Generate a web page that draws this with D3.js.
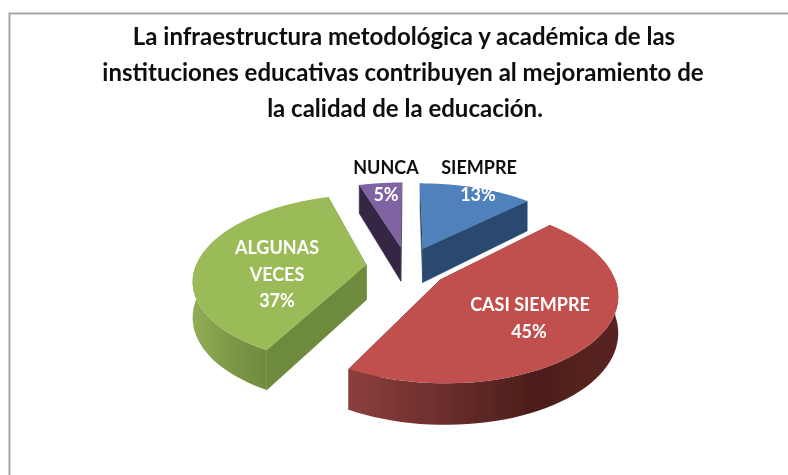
<!DOCTYPE html>
<html><head><meta charset="utf-8">
<script src="https://cdnjs.cloudflare.com/ajax/libs/d3/7.8.5/d3.min.js"></script>
<style>html,body{margin:0;padding:0;background:#fff}svg{display:block}</style></head>
<body><svg id="c" width="788" height="475"></svg>
<script>
const titleLines = ["La infraestructura metodológica y académica de las","instituciones educativas contribuyen al mejoramiento de","la calidad de la educación."];
const categories = ["SIEMPRE","CASI SIEMPRE","ALGUNAS VECES","NUNCA"];
const values = [13,45,37,5];
const topColors = ["#4f81bd","#c0504d","#9bbb59","#8064a2"];
const faceColors = ["#2c4a70","#7a2f2d","#6e8a3d","#362845"];
const sideStops = [
  [["0%","#2c4a70"],["100%","#2c4a70"]],
  [["0%","#8c3f3d"],["68%","#4c1e1c"],["100%","#5a2321"]],
  [["0%","#92ad55"],["60%","#7a9546"],["100%","#708b3e"]],
  [["0%","#362845"],["100%","#362845"]]
];
// label layout, one entry per line of text
const labelLines = [
  [["SIEMPRE",479,174,"#111"],["13%",478,201,"#fff"]],
  [["CASI SIEMPRE",530,311,"#fff"],["45%",529,338,"#fff"]],
  [["ALGUNAS",277,254,"#fff"],["VECES",277,281,"#fff"],["37%",277,307,"#fff"]],
  [["NUNCA",386,174,"#111"],["5%",386,201,"#fff"]]
];
const cam = {cx:407, cy:267, ty:0.5, k:0.00095, R:171, e:41, h:35};

const svg = d3.select("#c");
const defs = svg.append("defs");
const blur = defs.append("filter").attr("id","soft").attr("x","-5%").attr("y","-5%").attr("width","110%").attr("height","110%");
blur.append("feGaussianBlur").attr("stdDeviation",0.55);
const halo = defs.append("filter").attr("id","halo").attr("x","-5%").attr("y","-20%").attr("width","110%").attr("height","140%");
halo.append("feGaussianBlur").attr("stdDeviation",0.35);

svg.append("rect").attr("x",9.5).attr("y",13.5).attr("width",800).attr("height",470)
  .attr("fill","#fff").attr("stroke","#a6a6a6").attr("stroke-width",2);

const pie = d3.pie().sort(null).value(d=>d);
const arcs = pie(values);
const project = (X,Z,h) => {
  const s = 1 + cam.k*Z;
  return [cam.cx + X*s, cam.cy + (Z*cam.ty + h)*s];
};
const world = (a,r,mid) => [
  Math.sin(mid)*cam.e + Math.sin(a)*r,
  -Math.cos(mid)*cam.e - Math.cos(a)*r
];
const line = d3.line();
const pt = (a,r,mid,h) => { const w = world(a,r,mid); return project(w[0],w[1],h); };

const g = svg.append("g").attr("filter","url(#soft)");
const drawOrder = [3,0,2,1];
drawOrder.forEach(i=>{
  const d = arcs[i], mid = (d.startAngle+d.endAngle)/2;
  const angles = d3.range(0,61).map(t=>d.startAngle+(d.endAngle-d.startAngle)*t/60);
  const gid = "side"+i;
  const lg = defs.append("linearGradient").attr("id",gid);
  sideStops[i].forEach(s=>lg.append("stop").attr("offset",s[0]).attr("stop-color",s[1]));
  // cut faces
  [d.startAngle,d.endAngle].forEach(a=>{
    const quad = [pt(a,0,mid,0),pt(a,cam.R,mid,0),pt(a,cam.R,mid,cam.h),pt(a,0,mid,cam.h)];
    g.append("path").attr("d",line(quad)+"Z").attr("fill",faceColors[i]).attr("stroke",faceColors[i]).attr("stroke-width",0.5);
  });
  // outer wall: only the part facing the viewer
  const front = angles.filter(a=>Math.cos(a)<=0.02);
  if(front.length>1){
    const wall = front.map(a=>pt(a,cam.R,mid,0)).concat(front.slice().reverse().map(a=>pt(a,cam.R,mid,cam.h)));
    g.append("path").attr("d",line(wall)+"Z").attr("fill",`url(#${gid})`);
  }
  // top
  const top = [pt(0,0,mid,0)].concat(angles.map(a=>pt(a,cam.R,mid,0)));
  g.append("path").attr("d",line(top)+"Z").attr("fill",topColors[i]);
});

const t = svg.append("g").attr("text-anchor","middle").attr("font-family","Lato, sans-serif").attr("filter","url(#halo)");
titleLines.forEach((s,i)=>{
  t.append("text").attr("x",[404,403,405][i]).attr("y",[45,81,117][i])
   .attr("font-size",24).attr("font-weight",700).attr("fill","#111").text(s);
});
labelLines.forEach(L=>L.forEach(l=>{
  t.append("text").attr("x",l[1]).attr("y",l[2]).attr("font-size",18).attr("font-weight",700)
   .attr("fill",l[3]).text(l[0]);
}));
</script></body></html>
